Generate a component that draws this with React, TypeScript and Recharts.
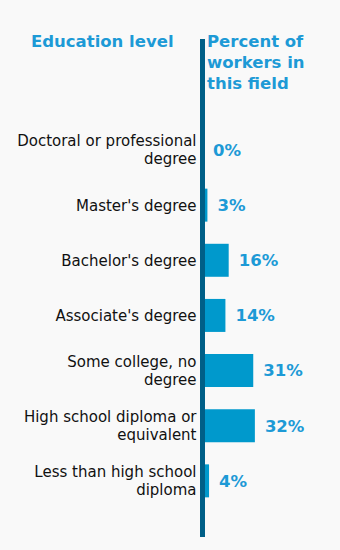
import React from "react";
import { BarChart, Bar, XAxis, YAxis, LabelList } from "recharts";

const categories = [
  "Doctoral or professional degree",
  "Master's degree",
  "Bachelor's degree",
  "Associate's degree",
  "Some college, no degree",
  "High school diploma or equivalent",
  "Less than high school diploma",
];

const tickLabels = [
  "Doctoral or professional\ndegree",
  "Master's degree",
  "Bachelor's degree",
  "Associate's degree",
  "Some college, no\ndegree",
  "High school diploma or\nequivalent",
  "Less than high school\ndiploma",
];

const percents = [0, 3, 16, 14, 31, 32, 4];

const data = categories.map((name, i) => ({ name, label: tickLabels[i], value: percents[i] }));

const FONT = "'DejaVu Sans', Verdana, sans-serif";
const BLUE_TEXT = "#1d9ad6";

const CategoryTick = (props: any) => {
  const { x, y, index } = props;
  const lines = tickLabels[index].split("\n");
  const lh = 18;
  const start = y - ((lines.length - 1) * lh) / 2;
  return (
    <text x={x} y={start} textAnchor="end" fontFamily={FONT} fontSize={15} fill="#111">
      {lines.map((l, i) => (
        <tspan key={i} x={x} y={start + i * lh} dy="0.36em">
          {l}
        </tspan>
      ))}
    </text>
  );
};

export default function App() {
  return (
    <div
      style={{
        position: "fixed",
        left: 0,
        top: 0,
        width: 340,
        height: 550,
        background: "#f9f9f9",
        fontFamily: FONT,
      }}
    >
      <div
        style={{
          position: "absolute",
          left: 31,
          top: 31,
          fontSize: 16.5,
          lineHeight: "21px",
          fontWeight: "bold",
          color: BLUE_TEXT,
        }}
      >
        Education level
      </div>
      <div
        style={{
          position: "absolute",
          left: 207,
          top: 31,
          fontSize: 16.5,
          lineHeight: "21px",
          fontWeight: "bold",
          color: BLUE_TEXT,
        }}
      >
        Percent of
        <br />
        workers in
        <br />
        this field
      </div>
      <div style={{ position: "absolute", left: 0, top: 0 }}>
        <BarChart
          width={340}
          height={550}
          data={data}
          layout="vertical"
          margin={{ top: 39, right: 0, bottom: 13, left: 0 }}
        >
          <XAxis type="number" domain={[0, 84]} hide />
          <YAxis
            type="category"
            dataKey="name"
            width={202.5}
            tickLine={false}
            tickSize={0}
            tickMargin={6}
            axisLine={{ stroke: "#005f87", strokeWidth: 5 }}
            padding={{ top: 83.5, bottom: 28.5 }}
            tick={<CategoryTick />}
            interval={0}
          />
          <Bar dataKey="value" fill="#0099cc" barSize={33} minPointSize={0.5} isAnimationActive={false}>
            <LabelList
              dataKey="value"
              position="right"
              offset={10}
              formatter={(v: any) => `${v}%`}
              style={{ fontFamily: FONT, fontSize: 16.5, fontWeight: "bold", fill: BLUE_TEXT }}
            />
          </Bar>
        </BarChart>
      </div>
    </div>
  );
}
